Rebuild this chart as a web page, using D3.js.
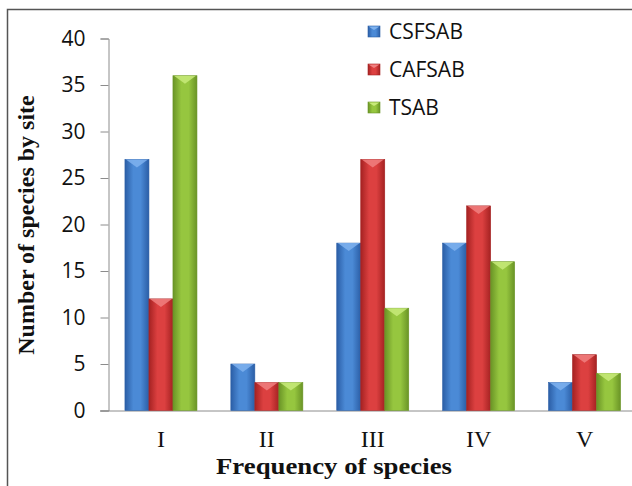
<!DOCTYPE html>
<html>
<head>
<meta charset="utf-8">
<script src="https://cdn.jsdelivr.net/npm/d3@7"></script>
<style>
  body { margin: 0; background: #fff; }
  svg { display: block; }
</style>
</head>
<body>
<div id="con"></div>
<script>
var categories = ['I', 'II', 'III', 'IV', 'V'];
var seriesNames = ['CSFSAB', 'CAFSAB', 'TSAB'];
var csfsab = [27, 5, 18, 18, 3];
var cafsab = [12, 3, 27, 22, 6];
var tsab = [36, 3, 11, 16, 4];
var yTicks = [0, 5, 10, 15, 20, 25, 30, 35, 40];

var seriesValues = [csfsab, cafsab, tsab];
var colors = [
  { dark: '#2b5ea6', mid: '#4b8ad6', light: '#7fb2ee' },
  { dark: '#a52222', mid: '#dc4040', light: '#f08080' },
  { dark: '#6a9426', mid: '#96c63f', light: '#c8ea7a' }
];

var width = 632, height = 486;

var svg = d3.select('#con').append('svg')
  .attr('width', width)
  .attr('height', height);

var defs = svg.append('defs');
colors.forEach(function (c, i) {
  var g = defs.append('linearGradient').attr('id', 'grad' + i)
    .attr('x1', '0%').attr('x2', '100%').attr('y1', '0%').attr('y2', '0%');
  g.append('stop').attr('offset', '0%').attr('stop-color', c.dark);
  g.append('stop').attr('offset', '35%').attr('stop-color', c.mid);
  g.append('stop').attr('offset', '65%').attr('stop-color', c.mid);
  g.append('stop').attr('offset', '100%').attr('stop-color', c.dark);
});

// frame (only top and left show in the crop)
svg.append('path')
  .attr('d', 'M7.5,' + height + 'V9.5H' + width)
  .attr('fill', 'none')
  .attr('stroke', '#555')
  .attr('stroke-width', 1.5);

var y = d3.scaleLinear().domain([0, 40]).range([410.5, 38.5]);
var x0 = d3.scaleBand().domain(categories).range([108, 637.5])
  .paddingInner(0.32).paddingOuter(0.16);
var x1 = d3.scaleBand().domain(seriesNames).range([0, x0.bandwidth()]);

// y axis
var yAxis = svg.append('g')
  .attr('transform', 'translate(108.5,0)')
  .call(d3.axisLeft(y).tickValues(yTicks).tickSize(8).tickPadding(15));
yAxis.select('.domain').attr('stroke', '#8c8c8c');
yAxis.selectAll('.tick line').attr('stroke', '#8c8c8c');
yAxis.selectAll('.tick text')
  .attr('fill', '#111')
  .style('font-family', '"Open Sans", sans-serif')
  .style('font-size', '21px');

// baseline
svg.append('line')
  .attr('x1', 100).attr('x2', width)
  .attr('y1', y(0) + 0.5).attr('y2', y(0) + 0.5)
  .attr('stroke', '#8c8c8c');

// x labels
svg.append('g').selectAll('text')
  .data(categories)
  .enter().append('text')
  .attr('x', function (d) { return x0(d) + x0.bandwidth() / 2; })
  .attr('y', 447)
  .attr('text-anchor', 'middle')
  .style('font-family', '"Liberation Serif", "Times New Roman", serif')
  .style('font-size', '24px')
  .attr('fill', '#111')
  .text(function (d) { return d; });

// bars
var rows = categories.map(function (c, ci) {
  return seriesNames.map(function (s, si) {
    return { cat: c, name: s, idx: si, value: seriesValues[si][ci] };
  });
});

var groups = svg.append('g').selectAll('g')
  .data(rows)
  .enter().append('g')
  .attr('transform', function (d) { return 'translate(' + x0(d[0].cat) + ',0)'; });

var bar = groups.selectAll('g')
  .data(function (d) { return d; })
  .enter().append('g');

bar.append('rect')
  .attr('x', function (d) { return x1(d.name); })
  .attr('y', function (d) { return y(d.value); })
  .attr('width', x1.bandwidth())
  .attr('height', function (d) { return y(0) - y(d.value); })
  .attr('fill', function (d) { return 'url(#grad' + d.idx + ')'; })
  .attr('stroke', function (d) { return colors[d.idx].dark; })
  .attr('stroke-width', 0.6);

// bevelled top
bar.append('path')
  .attr('d', function (d) {
    var bx = x1(d.name), by = y(d.value), w = x1.bandwidth();
    return 'M' + (bx + 1) + ',' + by + 'H' + (bx + w - 1) +
      'L' + (bx + w / 2) + ',' + (by + 8) + 'Z';
  })
  .attr('fill', function (d) { return colors[d.idx].light; })
  .attr('opacity', 0.85);

// legend
var legend = svg.append('g').selectAll('g')
  .data(seriesNames)
  .enter().append('g')
  .attr('transform', function (d, i) { return 'translate(368,' + (26 + i * 38) + ')'; });

legend.append('rect')
  .attr('width', 12).attr('height', 11)
  .attr('fill', function (d, i) { return 'url(#grad' + i + ')'; })
  .attr('stroke', function (d, i) { return colors[i].dark; })
  .attr('stroke-width', 0.6);
legend.append('path')
  .attr('d', 'M0.5,0.5H11.5L6,4Z')
  .attr('fill', function (d, i) { return colors[i].light; });

legend.append('text')
  .attr('x', 21)
  .attr('y', 13)
  .style('font-family', '"Open Sans", sans-serif')
  .style('font-size', '21px')
  .attr('fill', '#111')
  .text(function (d) { return d; });

// axis titles
svg.append('text')
  .attr('transform', 'translate(34,225) rotate(-90)')
  .attr('text-anchor', 'middle')
  .style('font-family', '"Liberation Serif", "Times New Roman", serif')
  .style('font-size', '24px')
  .style('font-weight', 'bold')
  .attr('fill', '#111')
  .text('Number of species by site');

svg.append('text')
  .attr('x', 334)
  .attr('y', 474)
  .attr('text-anchor', 'middle')
  .attr('textLength', 236)
  .attr('lengthAdjust', 'spacingAndGlyphs')
  .style('font-family', '"Liberation Serif", "Times New Roman", serif')
  .style('font-size', '24px')
  .style('font-weight', 'bold')
  .attr('fill', '#111')
  .text('Frequency of species');
</script>
</body>
</html>
